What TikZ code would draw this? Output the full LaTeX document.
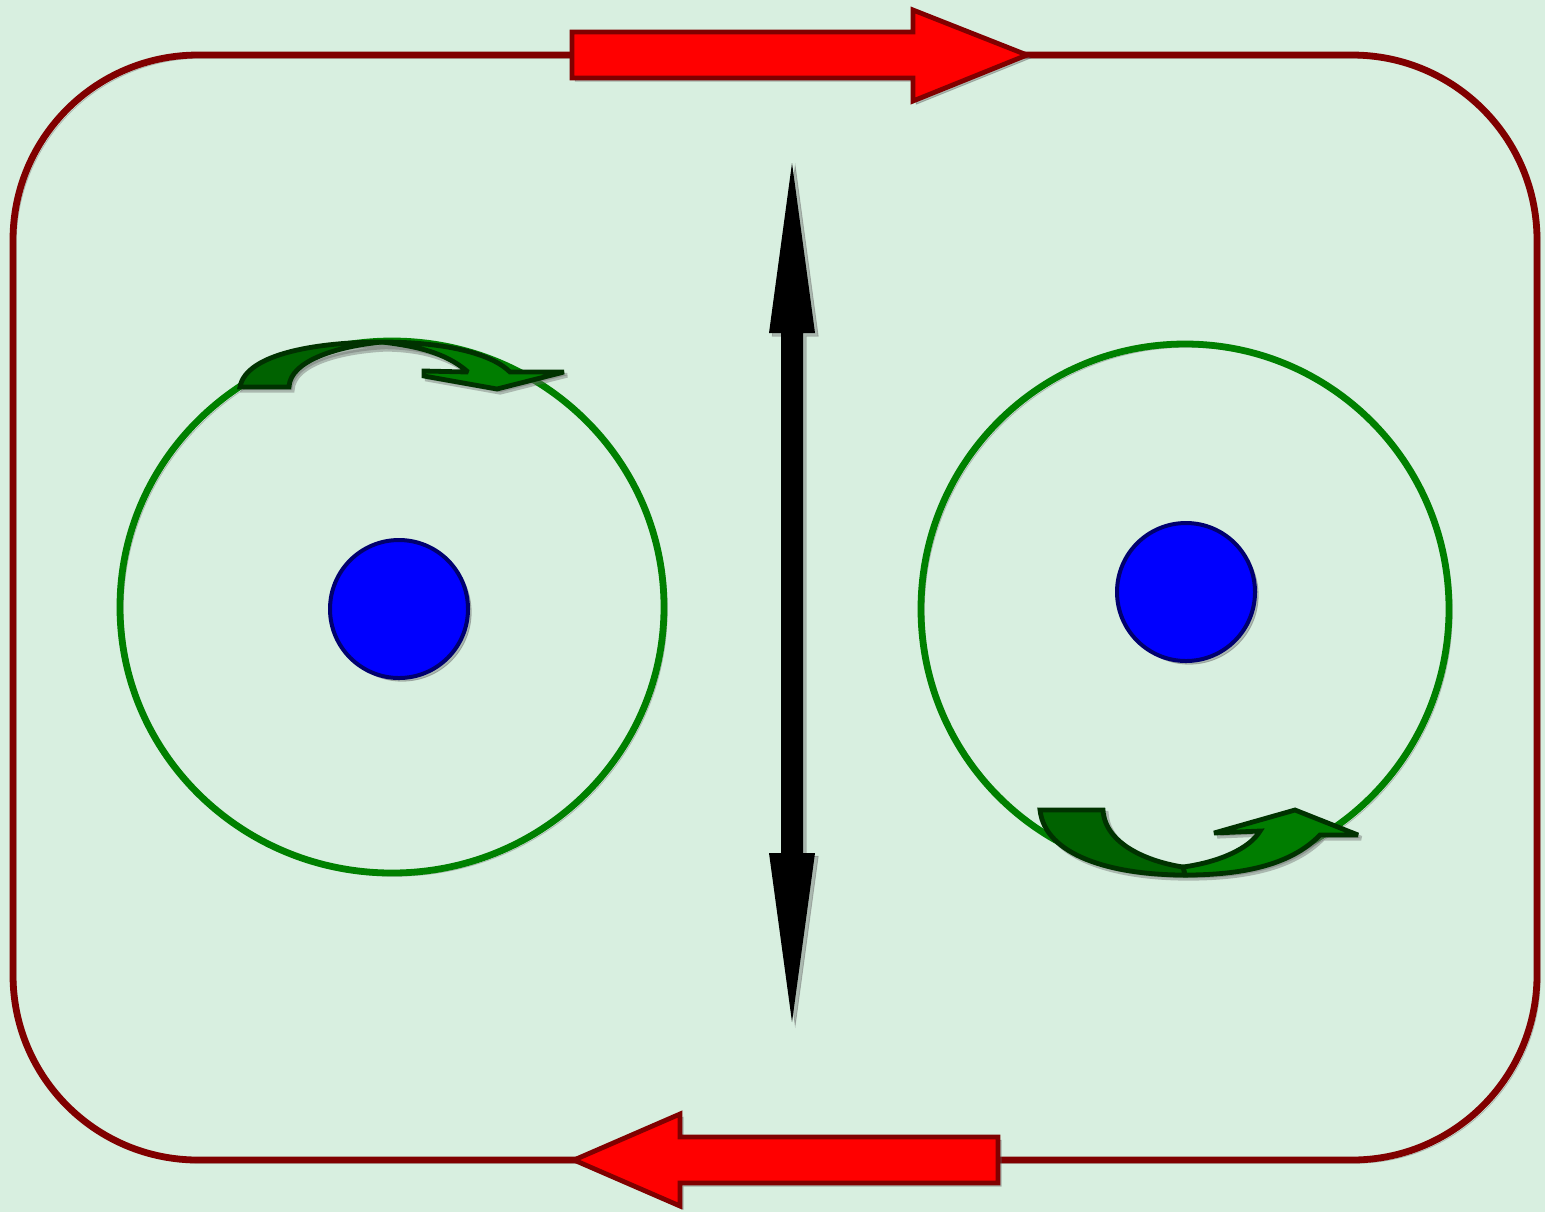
\documentclass[tikz,border=0pt]{standalone}
\usetikzlibrary{calc}
\definecolor{bg}{RGB}{216,239,224}
\definecolor{frame}{RGB}{128,0,0}
\definecolor{redfill}{RGB}{255,0,0}
\definecolor{ringgreen}{RGB}{0,128,0}
\definecolor{darkgreenfill}{RGB}{0,98,0}
\definecolor{lightgreenfill}{RGB}{0,125,0}
\definecolor{greenline}{RGB}{0,50,0}
\definecolor{dotblue}{RGB}{0,0,255}
\definecolor{dotline}{RGB}{0,0,110}
\tikzset{
  shadowline/.style={preaction={draw=black!60, opacity=0.4, transform canvas={shift={(1.6pt,-1.6pt)}}}},
  shadowfill/.style={preaction={draw=black!60, fill=black!60, opacity=0.4, transform canvas={shift={(1.6pt,-1.6pt)}}}},
  frameline/.style={draw=frame, line width=3.4pt, shadowline},
  redarrow/.style={fill=redfill, draw=frame, line width=2.4pt, line join=miter, shadowfill},
  ring/.style={draw=ringgreen, line width=3.4pt, shadowline},
  dot/.style={fill=dotblue, draw=dotline, line width=2pt, shadowfill},
  blackarrow/.style={fill=black, draw=none, shadowfill},
  gdark/.style={fill=darkgreenfill, draw=greenline, line width=2.4pt, line join=miter, miter limit=3},
  glight/.style={fill=lightgreenfill, draw=greenline, line width=2.4pt, line join=miter, miter limit=3},
  gshadow/.style={fill=black!60, draw=black!60, line width=2.4pt, miter limit=3, opacity=0.4, transform canvas={shift={(1.6pt,-1.6pt)}}}
}
\begin{document}
\begin{tikzpicture}[x=0.5pt, y=-0.5pt]
\useasboundingbox[fill=bg] (0,0) rectangle (1545,1212);

% outer frame
\draw[frameline, rounded corners=92.5pt] (13,55) rectangle (1537,1160);

% red arrows
\draw[redarrow] (572,32) -- (913,32) -- (913,10) -- (1027,55) -- (913,101) -- (913,78) -- (572,78) -- cycle;
\draw[redarrow] (998,1137) -- (680,1137) -- (680,1114) -- (574,1160) -- (680,1206) -- (680,1183) -- (998,1183) -- cycle;

% black double arrow
\path[blackarrow] (792,163) -- (815,333) -- (803,333) -- (803,853) -- (815,853) -- (792,1022) -- (769,853) -- (781,853) -- (781,333) -- (769,333) -- cycle;

% rings
\draw[ring] (392,607) ellipse [x radius=272, y radius=266];
\draw[ring] (1185,609) ellipse [x radius=264, y radius=265];

% blue dots
\draw[dot] (399,609) circle [radius=69];
\draw[dot] (1186,592) circle [radius=69];

% left curved arrow (top of left ring)
\path[gshadow] (240,387) .. controls (246,353) and (320,342) .. (382,342) .. controls (440,342) and (490,352) .. (510,372) -- (564,372) -- (497,389) -- (424,376) -- (424,371) -- (468,372) .. controls (445,352) and (410,346) .. (382,346) .. controls (340,348) and (290,360) .. (289,387) -- cycle;
\path[glight] (382,342) .. controls (440,342) and (490,352) .. (510,372) -- (564,372) -- (497,389) -- (424,376) -- (424,371) -- (468,372) .. controls (445,352) and (415,346) .. (382,342) -- cycle;
\path[gdark] (240,387) .. controls (246,353) and (320,342) .. (382,342) .. controls (340,346) and (290,360) .. (289,387) -- cycle;

% right curved arrow (bottom of right ring)
\path[gshadow] (1040,810) -- (1103,810) .. controls (1105,845) and (1150,862) .. (1183,867) .. controls (1220,862) and (1250,848) .. (1260,831) -- (1214,833) -- (1295,810) -- (1358,835) -- (1320,835) .. controls (1290,866) and (1240,875) .. (1185,875) .. controls (1110,875) and (1045,855) .. (1040,810) -- cycle;
\path[glight] (1183,867) .. controls (1220,862) and (1250,848) .. (1260,831) -- (1214,833) -- (1295,810) -- (1358,835) -- (1320,835) .. controls (1290,866) and (1240,875) .. (1185,875) -- cycle;
\path[gdark] (1040,810) -- (1103,810) .. controls (1105,845) and (1150,862) .. (1183,867) -- (1185,875) .. controls (1110,875) and (1045,855) .. (1040,810) -- cycle;
\end{tikzpicture}
\end{document}
